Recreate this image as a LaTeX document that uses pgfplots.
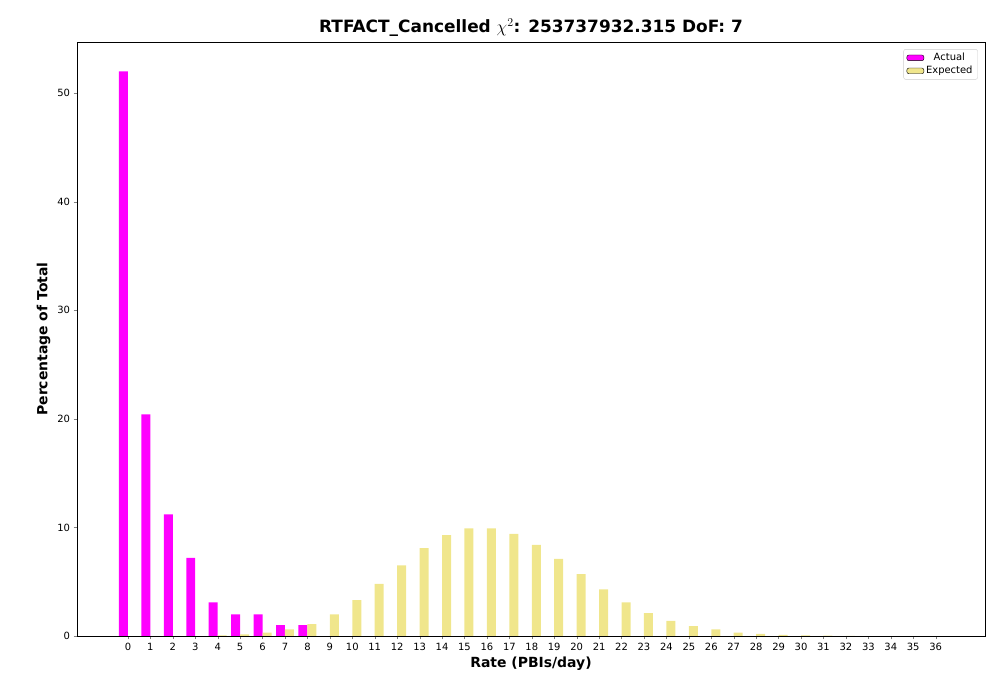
\documentclass[border=0pt]{standalone}
\usepackage{pgfplots}
\pgfplotsset{compat=1.18}
\usepackage{fontspec}
\setmainfont{DejaVu Sans}
\definecolor{act}{RGB}{255,0,255}
\definecolor{expc}{RGB}{240,230,140}
\begin{document}
\begin{tikzpicture}
\path[use as bounding box] (-77bp,-64bp) rectangle (923bp,636bp);
\begin{axis}[
 at={(0,0)}, anchor=south west,
 width=908bp, height=594bp, scale only axis,
 /pgf/number format/assume math mode=true,
 ybar=0pt, bar width=0.4,
 xmin=-2.27, xmax=38.2, ymin=0, ymax=54.7,
 xtick={0,...,36}, ytick={0,10,20,30,40,50},
 xtick pos=bottom, ytick pos=left,
 tick label style={font=\fontsize{10}{12}\selectfont},
 title={\bfseries RTFACT\_Cancelled $\chi^2$: 253737932.315 DoF: 7},
 title style={font=\fontsize{17}{20}\selectfont, yshift=-4bp},
 xlabel={\bfseries Rate (PBIs/day)}, ylabel={\bfseries Percentage of Total},
 label style={font=\fontsize{14}{17}\selectfont},
 legend style={at={(0.992,0.988)},anchor=north east,font=\fontsize{10}{12}\selectfont,draw=black!20,rounded corners=2pt},
 area legend,
 tick align=outside, major tick length=3.5pt,
]
\addplot[fill=act,draw=none] coordinates {(0,52)(1,20.4)(2,11.2)(3,7.2)(4,3.1)(5,2.0)(6,2.0)(7,1.0)(8,1.0)};
\addplot[fill=expc,draw=none] coordinates {(4,0.05)(5,0.15)(6,0.3)(7,0.6)(8,1.1)(9,2.0)(10,3.3)(11,4.8)(12,6.5)(13,8.1)(14,9.3)(15,9.9)(16,9.9)(17,9.4)(18,8.4)(19,7.1)(20,5.7)(21,4.3)(22,3.1)(23,2.1)(24,1.4)(25,0.9)(26,0.6)(27,0.3)(28,0.2)(29,0.1)(30,0.05)(31,0.03)(32,0.01)};
\legend{Actual,Expected}
\end{axis}
\end{tikzpicture}
\end{document}
